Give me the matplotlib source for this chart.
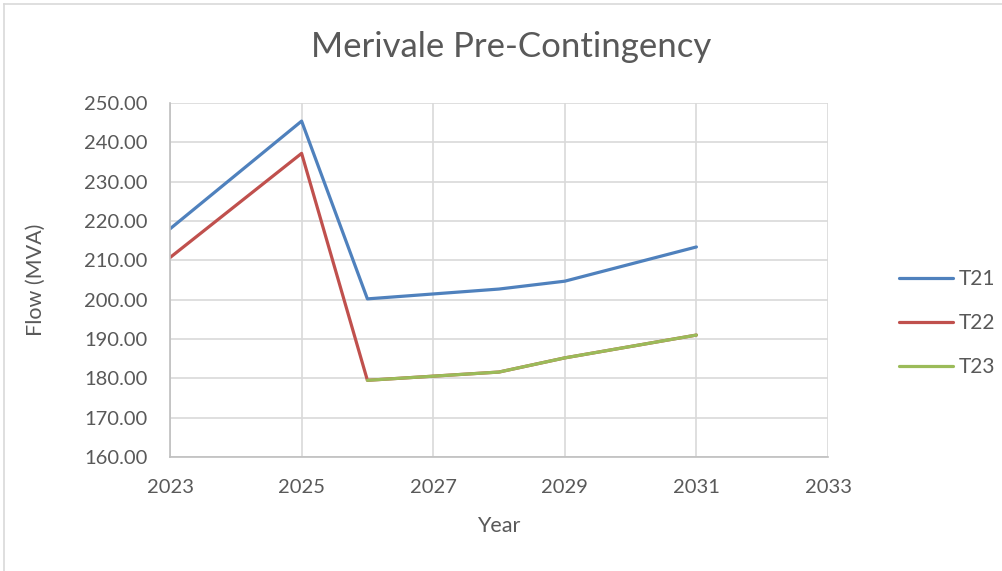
import numpy as np
import matplotlib
matplotlib.use("Agg")
import matplotlib.pyplot as plt
from matplotlib.lines import Line2D

years = [2023, 2025, 2026, 2028, 2029, 2031]
t21 = [218.0, 245.4, 200.2, 202.7, 204.7, 213.4]
t22 = [210.7, 237.2, 179.5, 181.6, 185.2, 191.0]
t23 = [np.nan, np.nan, 179.5, 181.6, 185.2, 191.0]
series_names = ["T21", "T22", "T23"]
x_ticks = [2023, 2025, 2027, 2029, 2031, 2033]
y_ticks = [160, 170, 180, 190, 200, 210, 220, 230, 240, 250]

plt.rcParams["font.family"] = ["Lato", "DejaVu Sans"]
text_color = "#595959"

fig = plt.figure(figsize=(10.02, 5.71), dpi=100)
ax = fig.add_axes([170 / 1002, 1 - 457 / 571, (828 - 170) / 1002, (457 - 103) / 571])

colors = ["#4F81BD", "#C0504D", "#9BBB59"]
for vals, name, c in zip([t21, t22, t23], series_names, colors):
    ax.plot(years, vals, color=c, lw=2.3, label=name, solid_capstyle="round")

ax.set_xlim(2023, 2033)
ax.set_ylim(160, 250)
ax.set_xticks(x_ticks)
ax.set_yticks(y_ticks)
ax.set_yticklabels([f"{v:.2f}" for v in y_ticks])
ax.grid(True, color="#D9D9D9", lw=1.2)
ax.set_axisbelow(True)
for s in ["top", "right"]:
    ax.spines[s].set_visible(False)
for s in ["left", "bottom"]:
    ax.spines[s].set_color("#BFBFBF")
    ax.spines[s].set_linewidth(1.2)
ax.tick_params(length=0, labelsize=14.5, colors=text_color)
ax.tick_params(axis="y", pad=16)
ax.tick_params(axis="x", pad=16)

ax.set_xlabel("Year", fontsize=15.5, color=text_color, labelpad=14)
ax.set_ylabel("Flow (MVA)", fontsize=15.5, color=text_color, labelpad=28)
fig.text(0.51, 1 - 47 / 571, "Merivale Pre-Contingency", fontsize=25,
         color=text_color, ha="center", va="center")

ax.legend(loc="center left", bbox_to_anchor=(880 / 1002, 1 - 323 / 571),
          bbox_transform=fig.transFigure, frameon=False, fontsize=15,
          labelcolor=text_color, handlelength=2.6, labelspacing=1.15,
          handletextpad=0.3)

# chart area border (left and top edges visible)
fig.add_artist(Line2D([4 / 1002, 4 / 1002], [0, 1 - 4 / 571], color="#D9D9D9", lw=1.2))
fig.add_artist(Line2D([4 / 1002, 1], [1 - 4 / 571, 1 - 4 / 571], color="#D9D9D9", lw=1.2))

fig.savefig("out.png", dpi=100)
